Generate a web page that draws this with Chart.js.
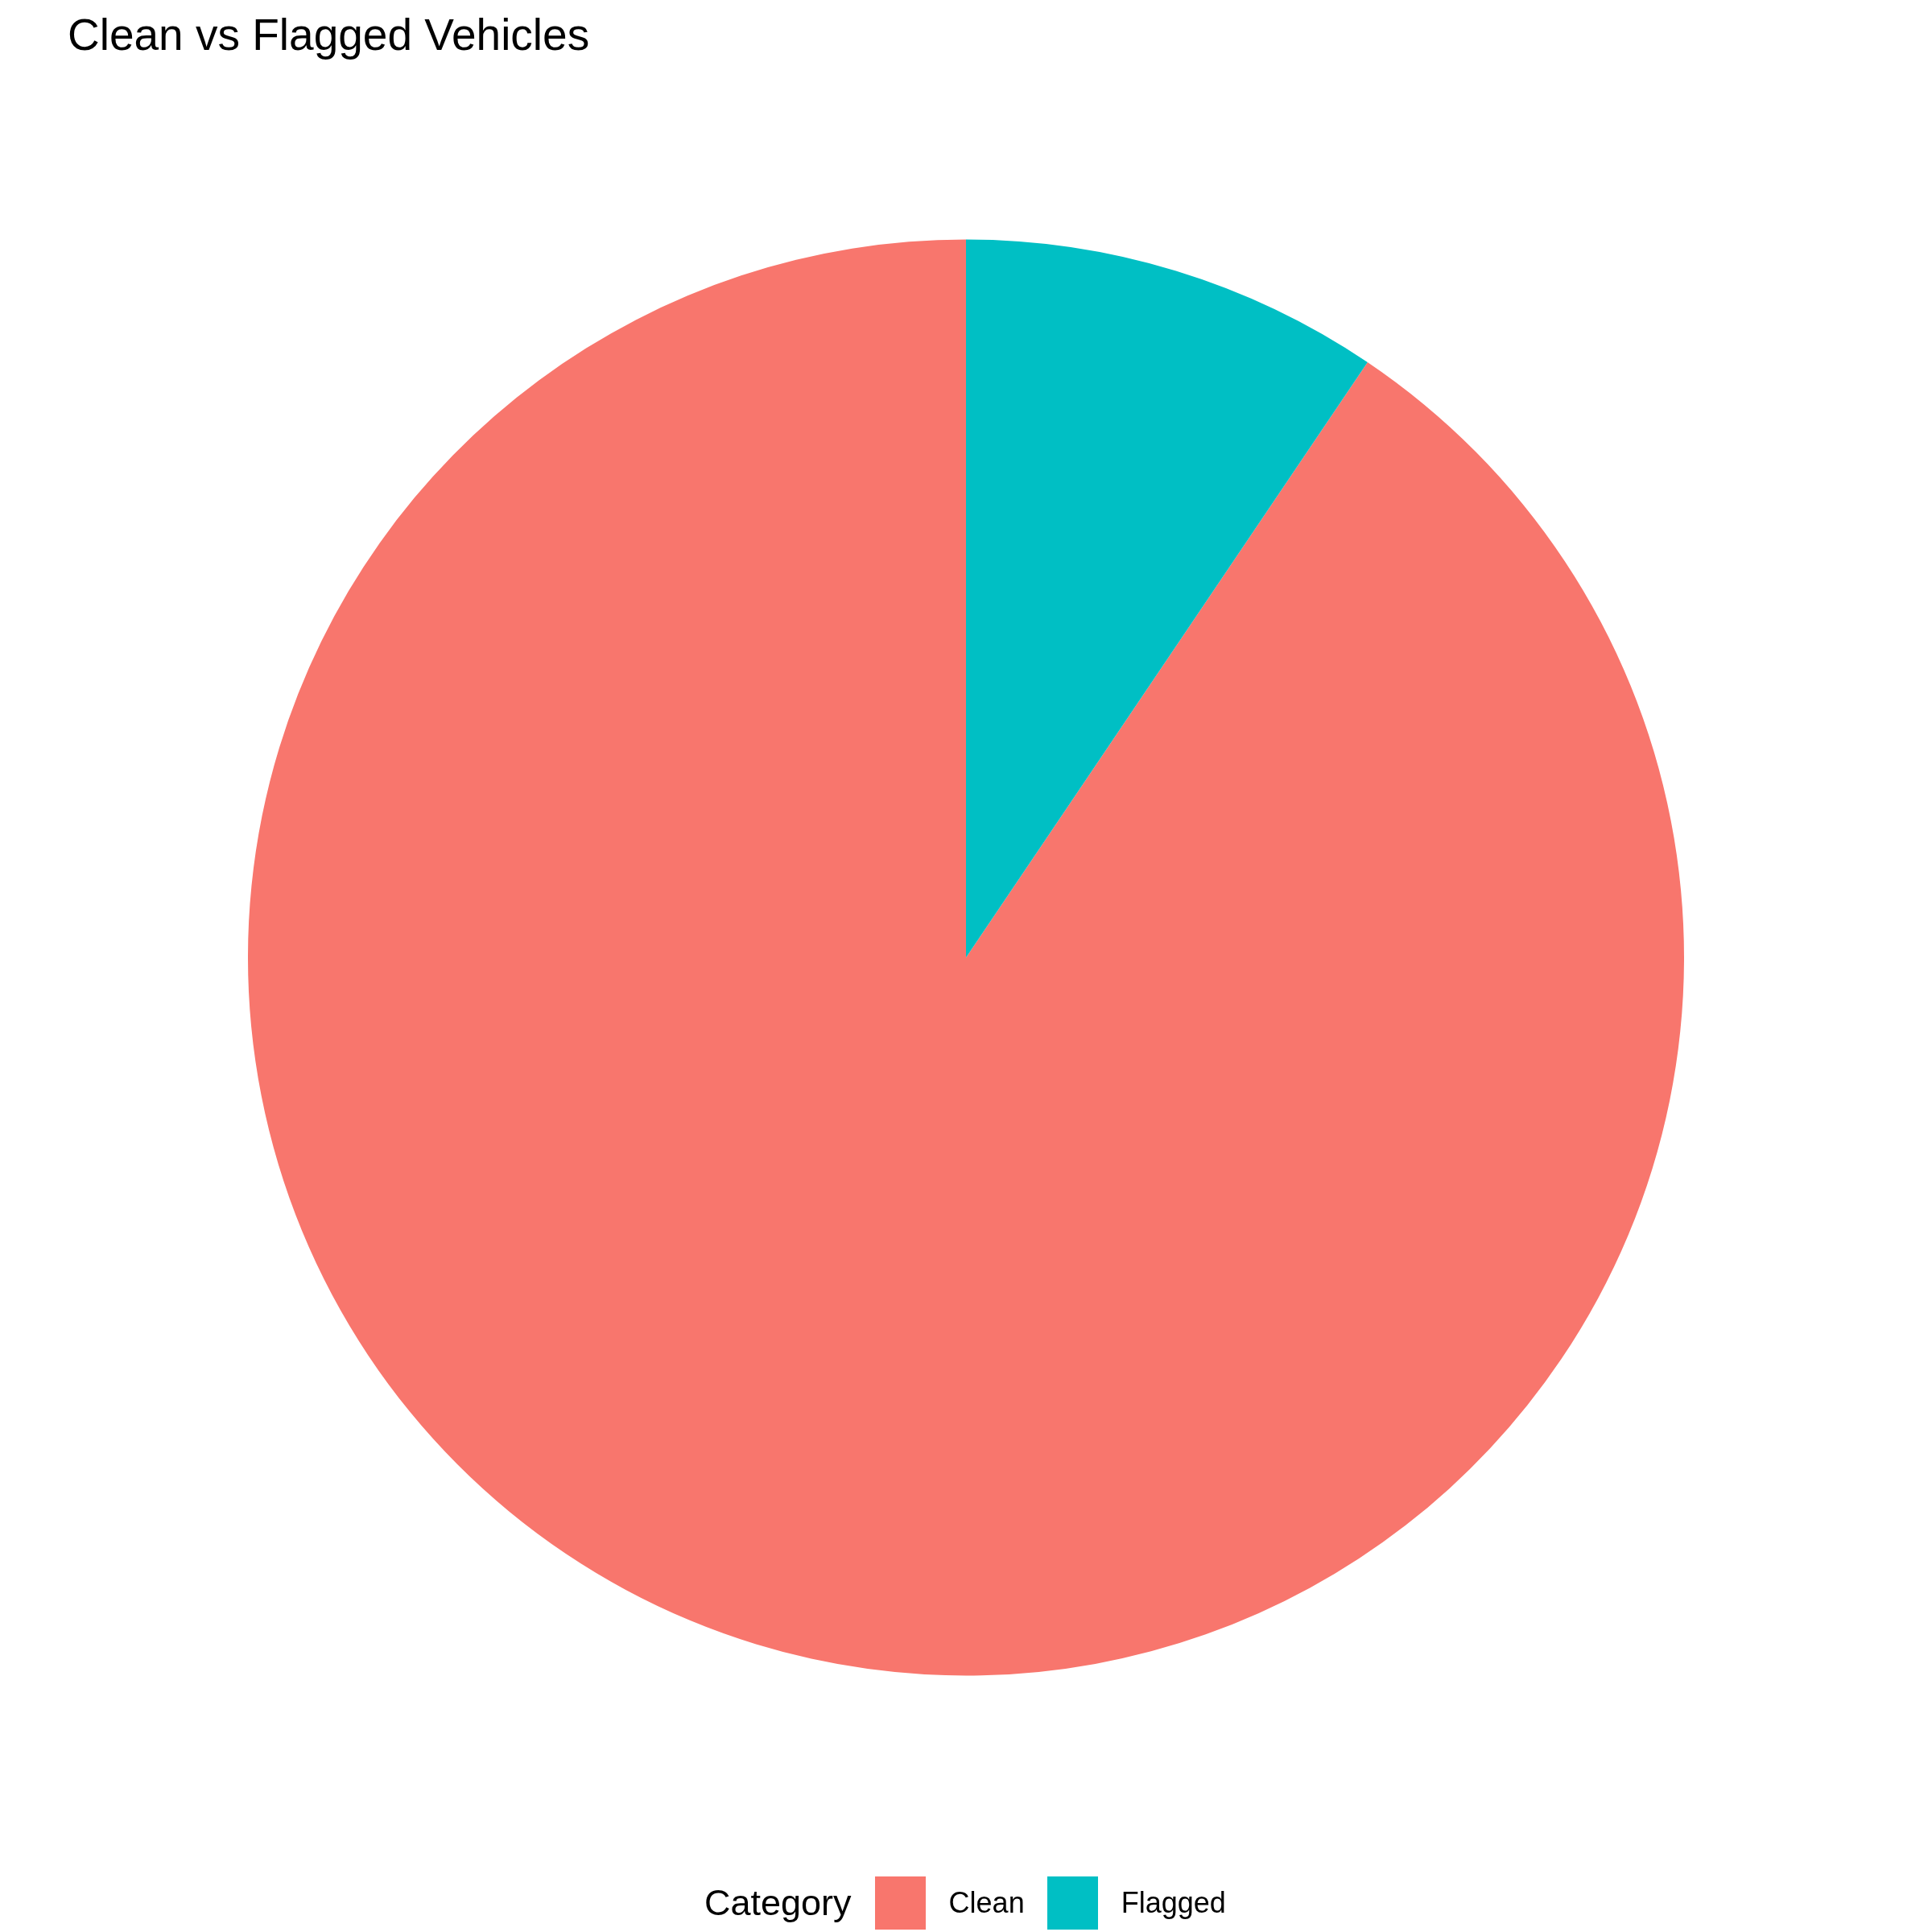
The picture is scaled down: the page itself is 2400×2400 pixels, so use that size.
<!DOCTYPE html>
<html>
<head>
<meta charset="utf-8">
<script src="https://cdn.jsdelivr.net/npm/chart.js@4"></script>
<style>
  html, body { margin: 0; padding: 0; background: #ffffff; }
  body { width: 2400px; height: 2400px; position: relative; overflow: hidden;
         font-family: "Liberation Sans", Arial, Helvetica, sans-serif; }
  #title { position: absolute; left: 84px; top: 16px; font-size: 55px; line-height: 55px; color: #000; white-space: nowrap; }
  #chart { position: absolute; left: 0; top: 0; }
  #legend { position: absolute; left: 875px; top: 2331px; height: 66px; display: flex; align-items: center; color: #000; }
  #legend .ttl { font-size: 45px; margin-right: 29px; }
  #legend .key { width: 63px; height: 66px; }
  #legend .lab { font-size: 36px; margin-left: 29px; margin-right: 28px; }
</style>
</head>
<body>
<div id="title">Clean vs Flagged Vehicles</div>
<canvas id="chart" width="2400" height="2400"></canvas>
<div id="legend"></div>
<script>
// данные диаграммы
const categories = ["Clean", "Flagged"];
const counts = [1812, 189];
const colors = ["#F8766D", "#00BFC4"];
const legendTitle = "Category";

// Flagged начинается с 12 часов, Clean идёт после него
const total = counts.reduce((a, b) => a + b, 0);
const startAngle = counts[1] / total * 360;

const ctx = document.getElementById("chart").getContext("2d");
new Chart(ctx, {
    type: "pie",
    data: {
        labels: categories,
        datasets: [{
            data: counts,
            backgroundColor: colors,
            borderWidth: 0,
            hoverOffset: 0
        }]
    },
    options: {
        responsive: false,
        animation: false,
        devicePixelRatio: 1,
        rotation: startAngle,
        layout: {
            padding: { top: 297.5, bottom: 318.5, left: 308, right: 308 }
        },
        plugins: {
            legend: { display: false },
            title: { display: false },
            tooltip: { enabled: false }
        }
    }
});

// легенда снизу
const legend = document.getElementById("legend");
const t = document.createElement("span");
t.className = "ttl";
t.innerText = legendTitle;
legend.appendChild(t);
categories.forEach((c, i) => {
    const box = document.createElement("span");
    box.className = "key";
    box.style.background = colors[i];
    legend.appendChild(box);
    const lab = document.createElement("span");
    lab.className = "lab";
    lab.innerText = c;
    legend.appendChild(lab);
});
</script>
</body>
</html>
